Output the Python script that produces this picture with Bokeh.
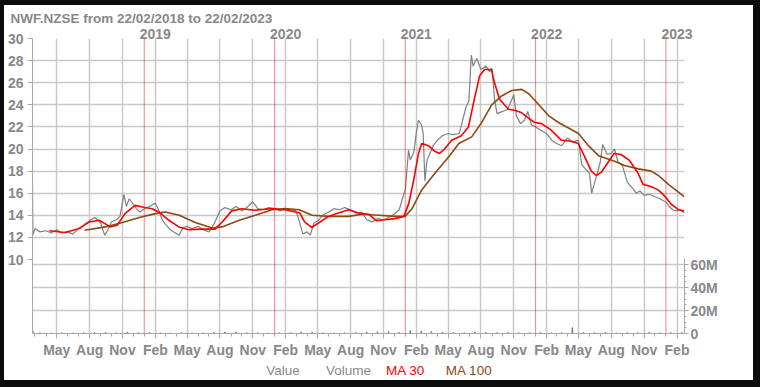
import pandas as pd
from bokeh.plotting import figure
from bokeh.layouts import column
from bokeh.models import (ColumnDataSource, Range1d, LinearAxis, FixedTicker, Grid, Span)
from bokeh.core.properties import value
from bokeh.embed import file_html
from bokeh.resources import INLINE

# ---------------- data ----------------
price_dates = [
    "2018-02-22", "2018-02-23", "2018-03-01", "2018-03-15", "2018-04-01", "2018-04-15", "2018-05-01", "2018-05-15",
    "2018-06-01", "2018-06-15", "2018-07-01", "2018-07-15", "2018-08-01", "2018-08-15", "2018-09-01", "2018-09-12",
    "2018-09-20", "2018-10-01", "2018-10-15", "2018-10-25", "2018-11-05", "2018-11-12", "2018-11-20", "2018-12-01",
    "2018-12-10", "2018-12-20",
    "2019-01-01", "2019-01-15", "2019-02-01", "2019-02-10", "2019-02-20", "2019-03-01", "2019-03-15", "2019-04-08",
    "2019-04-20", "2019-05-01", "2019-05-15", "2019-06-01", "2019-06-15", "2019-07-01", "2019-07-15", "2019-08-01",
    "2019-08-15", "2019-09-01", "2019-09-15", "2019-10-01", "2019-10-15", "2019-11-01", "2019-11-15", "2019-12-01",
    "2019-12-15",
    "2020-01-01", "2020-01-15", "2020-02-01", "2020-02-15", "2020-03-01", "2020-03-10", "2020-03-20", "2020-04-01",
    "2020-04-10", "2020-04-20", "2020-05-01", "2020-05-15", "2020-06-01", "2020-06-15", "2020-07-01", "2020-07-15",
    "2020-08-01", "2020-08-15", "2020-09-01", "2020-09-15", "2020-10-01", "2020-10-15", "2020-11-01", "2020-11-15",
    "2020-12-01", "2020-12-15", "2020-12-24",
    "2021-01-01", "2021-01-05", "2021-01-10", "2021-01-15", "2021-01-25", "2021-02-01", "2021-02-07", "2021-02-15",
    "2021-02-20", "2021-02-25", "2021-03-03", "2021-03-10", "2021-03-20", "2021-04-01", "2021-04-15", "2021-05-01",
    "2021-05-15", "2021-06-01", "2021-06-10", "2021-06-20", "2021-06-28", "2021-07-05", "2021-07-10", "2021-07-20",
    "2021-08-01", "2021-08-15", "2021-08-25", "2021-09-01", "2021-09-08", "2021-09-15", "2021-10-01", "2021-10-15",
    "2021-11-01", "2021-11-08", "2021-11-20", "2021-12-01", "2021-12-10", "2021-12-20",
    "2022-01-01", "2022-01-15", "2022-02-01", "2022-02-15", "2022-03-01", "2022-03-15", "2022-04-01", "2022-04-15",
    "2022-05-01", "2022-05-10", "2022-05-20", "2022-06-01", "2022-06-07", "2022-06-20", "2022-07-01", "2022-07-08",
    "2022-07-20", "2022-08-01", "2022-08-10", "2022-08-20", "2022-09-01", "2022-09-15", "2022-10-01", "2022-10-10",
    "2022-10-20", "2022-11-01", "2022-11-15", "2022-12-01", "2022-12-15",
    "2023-01-01", "2023-01-10", "2023-01-20", "2023-02-01", "2023-02-10", "2023-02-22",
]
price_values = [
    16.7, 12.2, 12.8, 12.5, 12.6, 12.4, 12.7, 12.4,
    12.5, 12.3, 12.8, 13.1, 13.5, 13.8, 13.3, 12.2,
    12.6, 13.4, 13.6, 13.9, 15.9, 14.8, 15.5, 15.0,
    14.6, 14.3,
    14.6, 14.8, 15.1, 14.5, 13.6, 13.2, 12.7, 12.2,
    12.9, 13.0, 12.8, 13.0, 12.7, 12.5, 13.2, 14.4,
    14.7, 14.5, 14.8, 14.4, 14.7, 15.2, 14.6, 14.5,
    14.7,
    14.6, 14.4, 14.6, 14.5, 14.4, 13.5, 12.3, 12.5,
    12.2, 13.3, 13.5, 14.0, 14.3, 14.6, 14.5, 14.7,
    14.5, 14.2, 14.3, 13.6, 13.4, 13.7, 13.6, 13.8,
    14.1, 14.5, 15.5,
    16.3, 17.8, 19.9, 19.0, 19.7, 21.5, 22.6, 22.2,
    21.5, 17.1, 19.0, 19.5, 20.3, 20.8, 21.2, 21.4,
    21.3, 21.4, 22.5, 23.8, 24.3, 28.5, 27.5, 28.2,
    27.2, 27.5, 27.0, 27.3, 24.5, 23.2, 23.4, 23.6,
    24.9, 23.0, 22.3, 22.6, 23.4, 22.2,
    22.0, 21.7, 21.4, 20.8, 20.5, 20.3, 21.0, 20.6,
    20.8, 18.6, 18.2, 17.8, 16.0, 17.5, 18.8, 20.4,
    19.5, 19.6, 20.0, 18.8, 18.5, 17.0, 16.4, 16.0,
    16.2, 15.8, 15.9, 15.7, 15.5,
    15.2, 14.8, 14.5, 14.4, 14.5, 14.2,
]

ma30_dates = [
    "2018-04-10", "2018-05-24", "2018-07-03", "2018-07-31", "2018-08-28", "2018-09-13", "2018-09-27", "2018-10-17",
    "2018-11-08", "2018-12-06", "2019-01-03", "2019-01-23", "2019-02-11", "2019-03-11", "2019-04-08", "2019-05-06",
    "2019-06-11", "2019-07-18", "2019-08-06", "2019-09-03", "2019-10-01", "2019-11-06", "2019-12-24", "2020-01-30",
    "2020-03-12", "2020-03-25", "2020-04-14", "2020-05-03", "2020-05-31", "2020-06-28", "2020-07-26", "2020-08-23",
    "2020-09-20", "2020-10-13", "2020-11-04", "2020-12-02", "2020-12-28", "2021-01-11", "2021-01-24", "2021-02-07",
    "2021-02-16", "2021-03-07", "2021-03-24", "2021-04-07", "2021-04-21", "2021-05-11", "2021-06-07", "2021-06-27",
    "2021-07-14", "2021-07-28", "2021-08-11", "2021-08-30", "2021-09-08", "2021-09-22", "2021-10-17", "2021-11-03",
    "2021-11-22", "2021-12-12", "2021-12-29", "2022-01-18", "2022-02-14", "2022-03-14", "2022-04-11", "2022-04-30",
    "2022-05-17", "2022-06-06", "2022-06-20", "2022-07-04", "2022-07-23", "2022-08-09", "2022-08-28", "2022-09-20",
    "2022-10-15", "2022-10-29", "2022-11-20", "2022-12-10", "2022-12-27", "2023-01-16", "2023-02-06", "2023-02-21",
]
ma30_values = [
    12.6, 12.45, 12.8, 13.4, 13.55, 13.25, 12.95, 13.1,
    14.15, 14.9, 14.7, 14.6, 14.3, 13.55, 12.95, 12.7,
    12.75, 12.75, 13.35, 14.4, 14.6, 14.45, 14.6, 14.5,
    14.2, 13.4, 12.9, 13.3, 13.9, 14.2, 14.5, 14.2,
    14.1, 13.5, 13.6, 13.7, 13.9, 15.1, 17.1, 19.6,
    20.5, 20.3, 19.8, 19.6, 20.0, 20.8, 21.2, 22.0,
    24.6, 26.6, 27.2, 27.2, 26.0, 24.5, 23.6, 23.5,
    23.3, 22.8, 22.4, 22.3, 21.7, 20.8, 20.7, 20.5,
    19.4, 18.0, 17.6, 17.9, 18.8, 19.6, 19.5, 19.0,
    17.8, 16.8, 16.6, 16.3, 15.8, 15.0, 14.5, 14.4,
]

ma100_dates = [
    "2018-07-18", "2018-09-14", "2018-11-01", "2018-12-18", "2019-02-01", "2019-03-01", "2019-04-09", "2019-05-24",
    "2019-07-10", "2019-08-07", "2019-09-24", "2019-11-08", "2019-12-25", "2020-01-30", "2020-03-10", "2020-04-15",
    "2020-06-01", "2020-07-27", "2020-09-02", "2020-10-19", "2020-12-03", "2020-12-31", "2021-01-20", "2021-02-16",
    "2021-03-25", "2021-05-03", "2021-05-31", "2021-07-06", "2021-08-03", "2021-08-31", "2021-09-28", "2021-10-26",
    "2021-11-23", "2021-12-13", "2022-01-10", "2022-02-07", "2022-03-06", "2022-04-03", "2022-05-01", "2022-05-29",
    "2022-06-26", "2022-07-13", "2022-08-10", "2022-09-07", "2022-10-16", "2022-11-21", "2022-12-11", "2023-01-08",
    "2023-02-05", "2023-02-21",
]
ma100_values = [
    12.65, 12.95, 13.35, 13.8, 14.15, 14.3, 14.0, 13.35,
    12.85, 12.95, 13.55, 14.0, 14.5, 14.6, 14.5, 14.0,
    13.9, 13.9, 14.1, 14.0, 13.9, 13.9, 14.6, 16.3,
    17.8, 19.3, 20.5, 21.1, 22.4, 24.0, 24.8, 25.3,
    25.4, 25.0, 24.0, 23.0, 22.4, 21.9, 21.4, 20.3,
    19.4, 19.2, 18.9, 18.5, 18.2, 18.0, 17.6, 16.8,
    16.1, 15.7,
]

volume_dates = [
    "2018-02-23", "2018-03-15", "2018-04-15", "2018-05-15", "2018-06-15", "2018-07-15", "2018-08-15", "2018-09-15",
    "2018-10-15", "2018-11-15", "2018-12-15", "2019-01-15", "2019-02-15", "2019-03-15", "2019-04-15", "2019-05-15",
    "2019-06-15", "2019-07-15", "2019-08-15", "2019-09-15", "2019-10-15", "2019-11-15", "2019-12-15", "2020-01-15",
    "2020-02-15", "2020-03-15", "2020-04-15", "2020-05-15", "2020-06-15", "2020-07-15", "2020-08-15", "2020-09-15",
    "2020-10-15", "2020-11-15", "2020-12-15", "2021-01-15", "2021-02-15", "2021-03-15", "2021-04-15", "2021-05-15",
    "2021-06-15", "2021-07-15", "2021-08-15", "2021-09-15", "2021-10-15", "2021-11-15", "2021-12-15", "2022-01-15",
    "2022-02-15", "2022-03-15", "2022-04-14", "2022-05-15", "2022-06-15", "2022-07-15", "2022-08-15", "2022-09-15",
    "2022-10-15", "2022-11-15", "2022-12-15", "2023-01-15", "2023-02-15",
]
volume_millions = [
    2.0, 0.6, 0.5, 0.6, 0.5, 0.7, 0.9, 1.0,
    0.6, 1.2, 0.7, 0.8, 0.6, 0.5, 0.7, 0.5,
    0.6, 0.9, 1.2, 1.0, 0.7, 0.6, 0.5, 0.6,
    0.8, 1.3, 1.1, 0.7, 0.5, 0.6, 0.7, 1.2,
    1.4, 1.5, 1.0, 2.4, 2.2, 1.5, 1.0, 0.8,
    0.7, 1.2, 0.8, 0.7, 0.9, 0.6, 0.7, 0.8,
    0.6, 0.7, 5.0, 0.8, 0.7, 0.9, 0.6, 0.7,
    0.6, 0.8, 0.6, 0.7, 0.8,
]

quarter_ticks = ["2018-05-01", "2018-08-01", "2018-11-01", "2019-02-01", "2019-05-01", "2019-08-01", "2019-11-01",
                 "2020-02-01", "2020-05-01", "2020-08-01", "2020-11-01", "2021-02-01", "2021-05-01", "2021-08-01",
                 "2021-11-01", "2022-02-01", "2022-05-01", "2022-08-01", "2022-11-01", "2023-02-01"]
year_ticks = ["2019-02-01", "2020-02-01", "2021-02-01", "2022-02-01", "2023-02-01"]
year_labels = ["2019", "2020", "2021", "2022", "2023"]
year_starts = ["2019-01-01", "2020-01-01", "2021-01-01", "2022-01-01", "2023-01-01"]
price_ticks = [10, 12, 14, 16, 18, 20, 22, 24, 26, 28, 30]
volume_ticks = [0, 20, 40, 60]
volume_tick_labels = ["0", "20M", "40M", "60M"]
legend_items = ["Value", "Volume", "MA 30", "MA 100"]
title_text = "NWF.NZSE from 22/02/2018 to 22/02/2023"


def ms(dates):
    return [float((pd.Timestamp(d) - pd.Timestamp("1970-01-01")) // pd.Timedelta("1ms")) for d in dates]


start, end = ms(["2018-02-22", "2023-02-22"])

GRAY_TXT = "#888888"
GRID = "#c8c8c8"
RED = "#ff0000"
BROWN = "#8c4a12"
FONT = "Liberation Sans"

# frame geometry (figure pixels)
W = 749
FX0, FW, FY0, FH = 27, 653, 33, 295
MAIN_H = 355
PX_PER_UNIT = 221.0 / 20.0
price_bottom = 30 - FH / PX_PER_UNIT
vol_top = 60e6 * FH / 69.0

p = figure(width=W, height=MAIN_H, output_backend="svg", toolbar_location=None,
           x_range=Range1d(start, end), y_range=Range1d(price_bottom, 30),
           x_axis_location=None, y_axis_location=None,
           min_border_left=FX0, min_border_right=W - FX0 - FW,
           min_border_top=FY0, min_border_bottom=MAIN_H - FY0 - FH)
p.extra_y_ranges = {"vol": Range1d(0, vol_top)}
p.outline_line_color = None
p.background_fill_color = "white"
p.border_fill_color = "white"
for g in p.grid:
    g.visible = False

p.title.text = title_text
p.title.text_font = FONT
p.title.text_font_style = "bold"
p.title.text_font_size = "13.5px"
p.title.text_color = GRAY_TXT
p.title.align = "left"
p.title.offset = 5 - FX0
p.title.standoff = 0

# grids
p.add_layout(Grid(dimension=0, ticker=FixedTicker(ticks=ms(quarter_ticks)),
                  grid_line_color=GRID, grid_line_width=1.5))
p.add_layout(Grid(dimension=1, ticker=FixedTicker(ticks=price_ticks[1:-1]),
                  grid_line_color=GRID, grid_line_width=1.5))
p.add_layout(Grid(dimension=1, y_range_name="vol",
                  ticker=FixedTicker(ticks=[v * 1e6 for v in volume_ticks[1:]]),
                  grid_line_color=GRID, grid_line_width=1.5))

# year separators
for d in ms(year_starts):
    p.add_layout(Span(location=d, dimension="height", line_color=RED, line_width=1, line_dash="1 1"))

# axes
month_names = {2: "Feb", 5: "May", 8: "Aug", 11: "Nov"}
bottom_ticks = ms(quarter_ticks)
bottom_labels = {t: month_names[pd.Timestamp(d).month] for t, d in zip(bottom_ticks, quarter_ticks)}
monthly = pd.date_range("2018-03-01", "2023-02-01", freq="MS").strftime("%Y-%m-%d").tolist()
xaxis = LinearAxis(ticker=FixedTicker(ticks=bottom_ticks, minor_ticks=ms(monthly)),
                   major_label_overrides=bottom_labels,
                   axis_line_color="#a8a8a8", major_tick_line_color="#a8a8a8", minor_tick_line_color="#a8a8a8",
                   major_tick_out=5, major_tick_in=0, minor_tick_out=3, minor_tick_in=0,
                   major_label_standoff=3, major_label_text_font=FONT, major_label_text_font_style="bold",
                   major_label_text_font_size="14px", major_label_text_color=GRAY_TXT)
p.add_layout(xaxis, "below")

top_ticks = ms(year_ticks)
topaxis = LinearAxis(ticker=FixedTicker(ticks=top_ticks, minor_ticks=[]),
                     major_label_overrides=dict(zip(top_ticks, year_labels)),
                     axis_line_color=None, major_tick_line_color=None, minor_tick_line_color=None,
                     major_tick_out=0, major_tick_in=0, major_label_standoff=0,
                     major_label_text_font=FONT, major_label_text_font_style="bold",
                     major_label_text_font_size="14px", major_label_text_color=GRAY_TXT)
p.add_layout(topaxis, "above")

yaxis = LinearAxis(ticker=FixedTicker(ticks=price_ticks, minor_ticks=[]),
                   axis_line_color="#a8a8a8", major_tick_line_color="#a8a8a8",
                   major_tick_out=5, major_tick_in=0, major_label_standoff=4,
                   major_label_text_font=FONT, major_label_text_font_style="bold",
                   major_label_text_font_size="14px", major_label_text_color=GRAY_TXT)
p.add_layout(yaxis, "left")

vol_ticks = [v * 1e6 for v in volume_ticks]
raxis = LinearAxis(y_range_name="vol",
                   ticker=FixedTicker(ticks=vol_ticks, minor_ticks=[v * 1e6 for v in range(0, 65, 5)]),
                   major_label_overrides=dict(zip(vol_ticks, volume_tick_labels)),
                   bounds=(0, 65e6),
                   axis_line_color="#a8a8a8", major_tick_line_color="#a8a8a8", minor_tick_line_color="#a8a8a8",
                   major_tick_out=4, major_tick_in=0, minor_tick_out=2, minor_tick_in=0, major_label_standoff=2,
                   major_label_text_font=FONT, major_label_text_font_style="bold",
                   major_label_text_font_size="14px", major_label_text_color=GRAY_TXT)
p.add_layout(raxis, "right")

# series
vol_src = ColumnDataSource(dict(x=ms(volume_dates), top=[v * 1e6 for v in volume_millions]))
p.vbar(x="x", top="top", width=2 * 86400000, bottom=0, source=vol_src, y_range_name="vol",
       fill_color="#808080", line_color="#808080", line_width=1)

price_src = ColumnDataSource(dict(x=ms(price_dates), y=price_values))
p.line("x", "y", source=price_src, line_color="#808080", line_width=1.2)
ma100_src = ColumnDataSource(dict(x=ms(ma100_dates), y=ma100_values))
p.line("x", "y", source=ma100_src, line_color=BROWN, line_width=1.6)
ma30_src = ColumnDataSource(dict(x=ms(ma30_dates), y=ma30_values))
p.line("x", "y", source=ma30_src, line_color=RED, line_width=1.6)

# legend strip (texts only, as in the original); its frame is aligned with the main frame
LEG_H = 375 - MAIN_H
leg = figure(width=W, height=LEG_H, output_backend="svg", toolbar_location=None,
             x_range=Range1d(FX0, FX0 + FW), y_range=Range1d(LEG_H, 0),
             x_axis_location=None, y_axis_location=None,
             min_border_left=FX0, min_border_right=W - FX0 - FW, min_border_top=0, min_border_bottom=0)
leg.outline_line_color = None
leg.background_fill_color = "white"
leg.border_fill_color = "white"
for g in leg.grid:
    g.visible = False
leg_src = ColumnDataSource(dict(x=[261, 321, 381, 441], y=[9.5] * 4, text=legend_items,
                                color=[GRAY_TXT, GRAY_TXT, RED, BROWN]))
leg.text(x="x", y="y", text="text", text_color="color", source=leg_src,
         text_font=value(FONT), text_font_size="13.5px", text_baseline="middle", text_align="left")

layout = column(p, leg, spacing=0)
layout.styles = {"position": "relative", "left": "4px", "top": "5px",
                 "box-shadow": "0 0 0 12px #0c0c0c"}

p = layout
open("out.html", "w").write(file_html(p, INLINE))
